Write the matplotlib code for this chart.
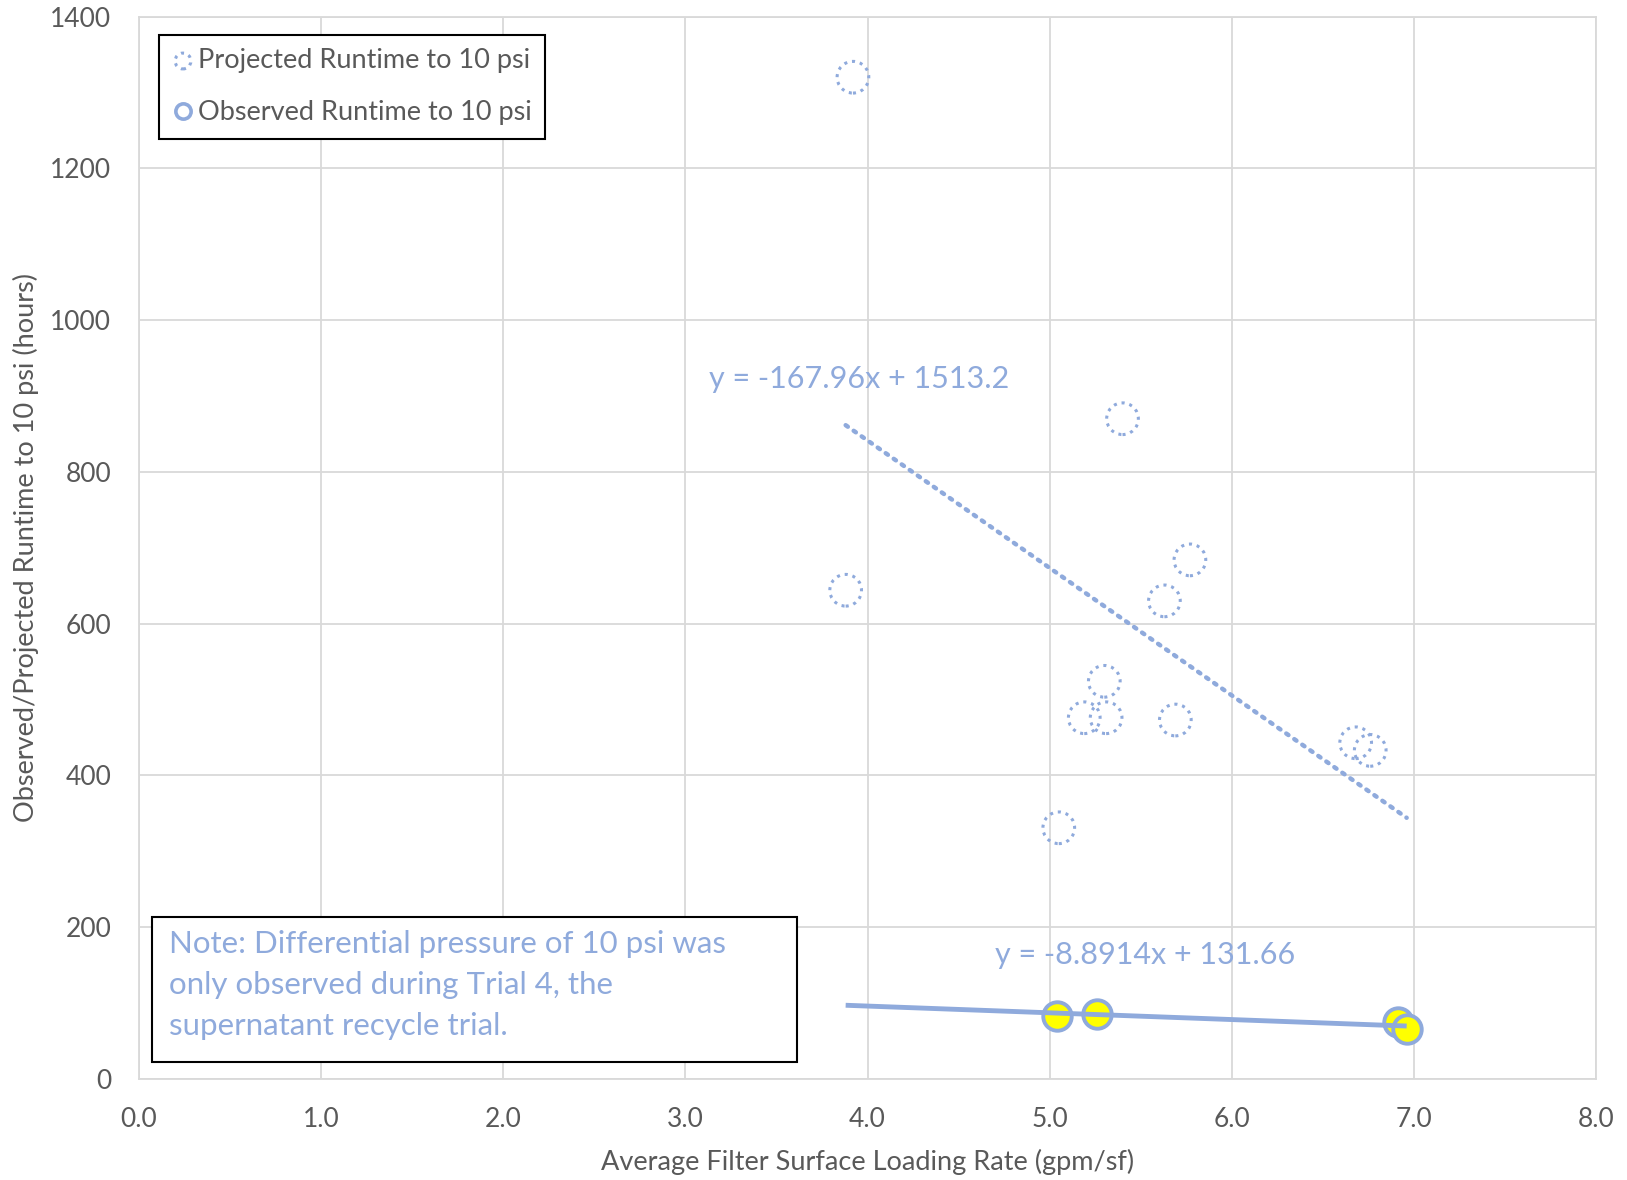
import matplotlib
matplotlib.use("Agg")
import matplotlib.pyplot as plt
import numpy as np
from matplotlib.lines import Line2D

# Data
proj_x = [3.92, 5.40, 3.88, 5.77, 5.63, 5.30, 5.19, 5.31, 5.69, 5.05, 6.68, 6.76]
proj_y = [1320, 870, 644, 684, 630, 524, 476, 476, 473, 331, 443, 433]
obs_x = [5.04, 5.26, 6.91, 6.96]
obs_y = [83, 86, 75, 66]
proj_slope, proj_intercept = -167.96, 1513.2
obs_slope, obs_intercept = -8.8914, 131.66
trend_x_range = [3.88, 6.96]
x_ticks = [0, 1, 2, 3, 4, 5, 6, 7, 8]
y_ticks = [0, 200, 400, 600, 800, 1000, 1200, 1400]

plt.rcParams['font.family'] = ['Lato', 'DejaVu Sans']
blue = '#8FAADC'
grid_c = '#D9D9D9'
text_c = '#595959'

fig = plt.figure(figsize=(16.27, 11.80), dpi=100)
ax = fig.add_axes([0.0854, 0.0856, 0.8956, 0.9004])

ax.set_xlim(0, 8)
ax.set_ylim(0, 1400)
ax.set_xticks(x_ticks)
ax.set_xticklabels([f"{v:.1f}" for v in x_ticks])
ax.set_yticks(y_ticks)
ax.grid(True, color=grid_c, linewidth=1.3)
ax.set_axisbelow(True)
for s in ax.spines.values():
    s.set_color(grid_c)
    s.set_linewidth(1.3)
ax.tick_params(length=0, labelsize=19, colors=text_c)
ax.tick_params(axis='y', pad=20)
ax.tick_params(axis='x', pad=20)

# Projected points (dotted circles)
sc1 = ax.scatter(proj_x, proj_y, s=520, facecolors='none', edgecolors=blue,
                 linewidths=2.2, linestyles=(0, (1, 1.6)), zorder=3,
                 label='Projected Runtime to 10 psi')
# Observed points
sc2 = ax.scatter(obs_x, obs_y, s=420, facecolors='#FFFF00', edgecolors=blue,
                 linewidths=2.8, zorder=3, label='Observed Runtime to 10 psi')

# Trendlines
tx = np.array(trend_x_range)
ax.plot(tx, proj_slope * tx + proj_intercept, color=blue, linewidth=3.2,
        linestyle=(0, (0.6, 1.6)), dash_capstyle='round', zorder=4)
ax.plot(tx, obs_slope * tx + obs_intercept, color=blue, linewidth=3.5,
        solid_capstyle='butt', zorder=4)

ax.text(3.13, 923, "y = -167.96x + 1513.2", color=blue, fontsize=22,
        ha='left', va='center')
ax.text(4.70, 163, "y = -8.8914x + 131.66", color=blue, fontsize=22,
        ha='left', va='center')

# Note box
ax.text(0.0207, 0.140, "Note: Differential pressure of 10 psi was\nonly observed during Trial 4, the\nsupernatant recycle trial.",
        transform=ax.transAxes, color=blue, fontsize=22.5, ha='left', va='top',
        linespacing=1.55, zorder=6)
note = plt.Rectangle((0.0093, 0.0156), 0.4423, 0.1367, transform=ax.transAxes,
                     facecolor='white', edgecolor='black', linewidth=1.5, zorder=5)
ax.add_patch(note)

# Legend
h2 = Line2D([], [], marker='o', linestyle='none', markersize=11,
            markerfacecolor='none', markeredgecolor=blue, markeredgewidth=2.6)
leg = ax.legend([sc1, h2], ['Projected Runtime to 10 psi', 'Observed Runtime to 10 psi'],
                loc='upper left', bbox_to_anchor=(0.0135, 0.983), fontsize=19.5,
                frameon=True, fancybox=False, edgecolor='black', framealpha=1,
                handletextpad=0.15, handlelength=0.8, borderpad=0.5,
                labelspacing=1.0, markerscale=0.5, borderaxespad=0)
leg.get_frame().set_linewidth(1.5)
for t in leg.get_texts():
    t.set_color(text_c)
for lh in leg.legend_handles:
    if isinstance(lh, Line2D):
        lh.set_markersize(11)

ax.set_xlabel("Average Filter Surface Loading Rate (gpm/sf)", fontsize=19.5,
              color=text_c, labelpad=12)
ax.set_ylabel("Observed/Projected Runtime to 10 psi (hours)", fontsize=19.5,
              color=text_c, labelpad=8)

fig.savefig("out.png", dpi=100)
